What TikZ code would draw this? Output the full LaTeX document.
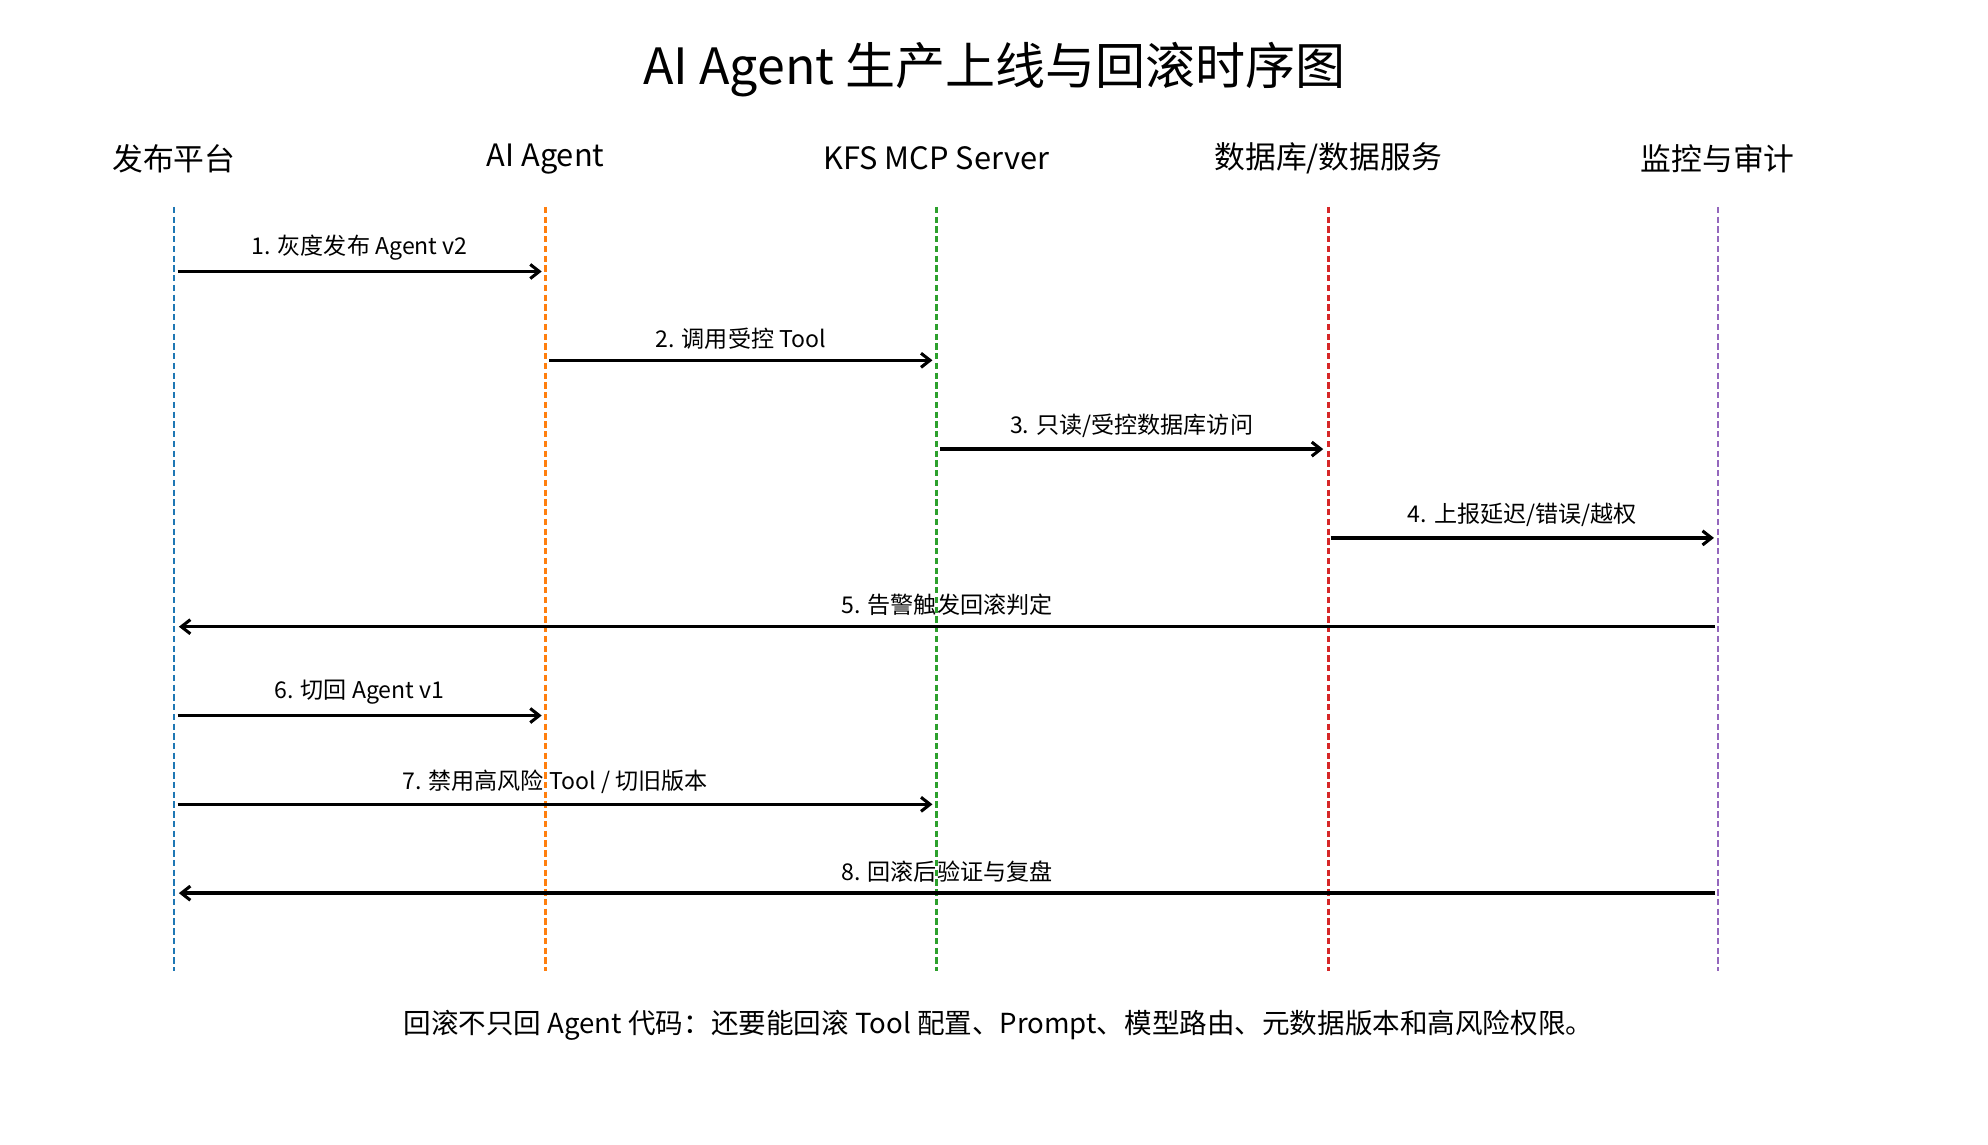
\documentclass[tikz,border=0pt]{standalone}
\usepackage{fontspec}
\setmainfont{Noto Sans CJK SC}
\usetikzlibrary{arrows.meta}
\definecolor{c1}{RGB}{31,119,180}
\definecolor{c2}{RGB}{255,127,14}
\definecolor{c3}{RGB}{44,160,44}
\definecolor{c4}{RGB}{214,39,40}
\definecolor{c5}{RGB}{148,103,189}
\begin{document}
\begin{tikzpicture}[x=0.989pt,y=-0.989pt,
  head/.style={font=\fontsize{24}{28}\selectfont},
  life/.style={line width=2pt,dash pattern=on 5pt off 2.6pt},
  msg/.style={line width=2.6pt,-{Straight Barb[length=7pt,width=11pt,line width=2.4pt]}},
  lab/.style={font=\fontsize{18}{21}\selectfont,above=4pt}]
\useasboundingbox (0,0) rectangle (1567,902);
\node[font=\fontsize{39}{44}\selectfont] (title) at (784,55) {AI Agent 生产上线与回滚时序图};
\foreach \n/\x/\c/\t in {a/137/c1/{发布平台},b/430/c2/{AI Agent},c/738/c3/{KFS MCP Server},d/1047/c4/{数据库/数据服务},e/1354/c5/{监控与审计}}{
  \node[head] (h\n) at (\x,125) {\t};
  \coordinate (\n0) at (\x,163);
  \coordinate (\n1) at (\x,765);
  \draw[life,\c] (\n0) -- (\n1);
}
\newcommand{\msgline}[5]{%
  \coordinate (s#5) at (#1,#3); \coordinate (t#5) at (#2,#3);
  \draw[msg] (s#5) -- node[lab] {#4} (t#5);}
\msgline{140}{427}{214}{1. 灰度发布 Agent v2}{1}
\msgline{433}{735}{284}{2. 调用受控 Tool}{2}
\msgline{741}{1043}{354}{3. 只读/受控数据库访问}{3}
\msgline{1049}{1351}{424}{4. 上报延迟/错误/越权}{4}
\msgline{1352}{141}{494}{5. 告警触发回滚判定}{5}
\msgline{140}{427}{564}{6. 切回 Agent v1}{6}
\msgline{140}{735}{634}{7. 禁用高风险 Tool / 切旧版本}{7}
\msgline{1352}{141}{704}{8. 回滚后验证与复盘}{8}
\node[font=\fontsize{21.5}{25}\selectfont] (foot) at (787,808) {回滚不只回 Agent 代码：还要能回滚 Tool 配置、Prompt、模型路由、元数据版本和高风险权限。};
\end{tikzpicture}
\end{document}
